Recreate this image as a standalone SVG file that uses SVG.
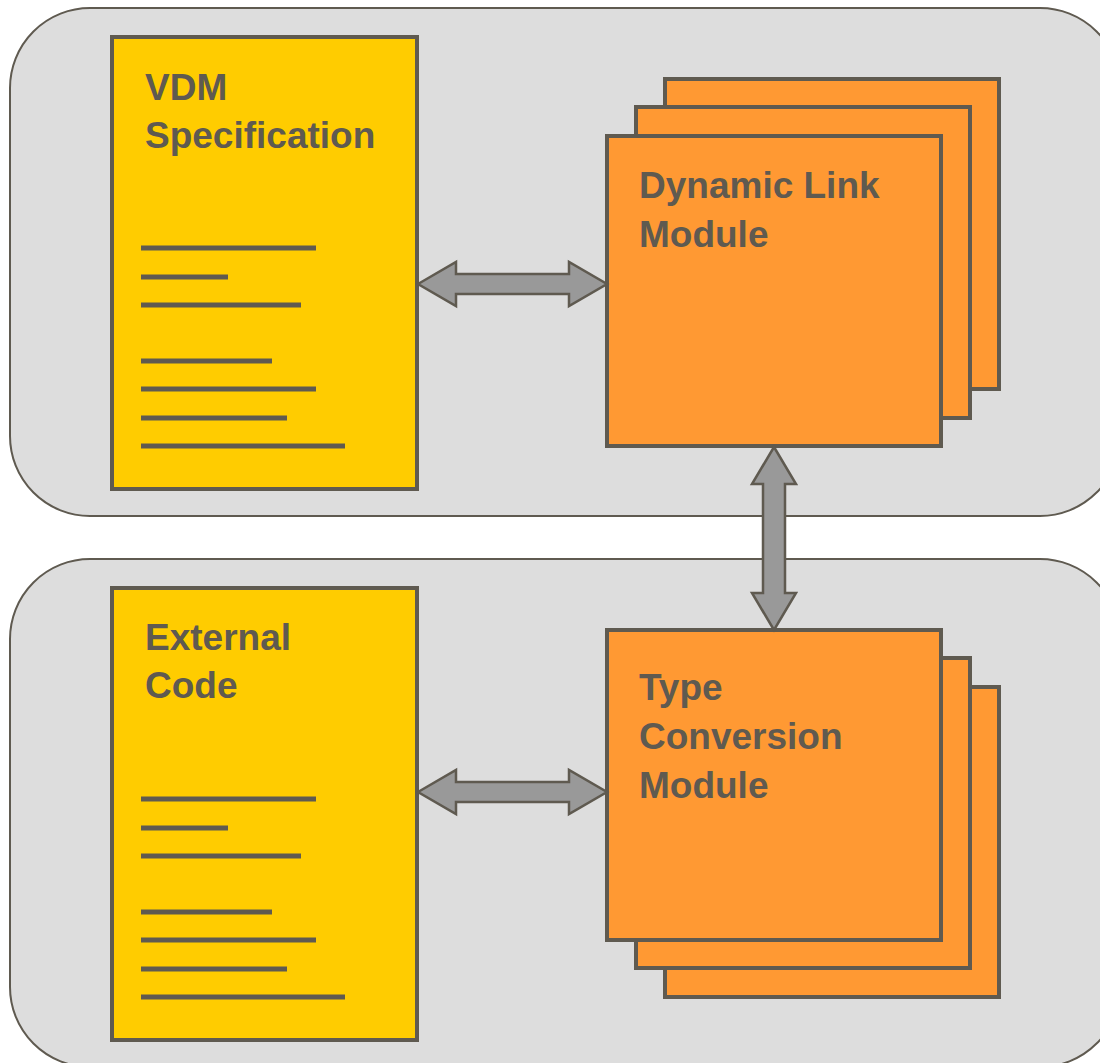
<svg xmlns="http://www.w3.org/2000/svg" width="1100" height="1063" viewBox="0 0 1100 1063">
<style>
.panel{fill:#DDDDDD;stroke:#5F5A50;stroke-width:2}
.doc{fill:#FFCC00;stroke:#5F5A50;stroke-width:4}
.mod{fill:#FF9933;stroke:#5F5A50;stroke-width:4}
.ln{stroke:#5F5A50;stroke-width:5}
.arrow{fill:#999999;stroke:#5F5A50;stroke-width:2.5;stroke-linejoin:miter}
.t{font-family:"Liberation Sans",Arial,sans-serif;font-weight:bold;font-size:37px;fill:#5F5A50}
</style>
<g id="panel-top"><rect class="panel" x="10" y="8" width="1110" height="508" rx="80" ry="80"/></g>
<g id="panel-bottom"><rect class="panel" x="10" y="559" width="1110" height="508" rx="80" ry="80"/></g>
<g id="vdm-spec">
<rect class="doc" x="112" y="37" width="305" height="452"/>
<text class="t" x="145" y="100">VDM</text>
<text class="t" x="145" y="148">Specification</text>
<line class="ln" x1="141" y1="248" x2="316" y2="248"/>
<line class="ln" x1="141" y1="277" x2="228" y2="277"/>
<line class="ln" x1="141" y1="305" x2="301" y2="305"/>
<line class="ln" x1="141" y1="361" x2="272" y2="361"/>
<line class="ln" x1="141" y1="389" x2="316" y2="389"/>
<line class="ln" x1="141" y1="418" x2="287" y2="418"/>
<line class="ln" x1="141" y1="446" x2="345" y2="446"/>
</g>
<g id="external-code">
<rect class="doc" x="112" y="588" width="305" height="452"/>
<text class="t" x="145" y="650">External</text>
<text class="t" x="145" y="698">Code</text>
<line class="ln" x1="141" y1="799" x2="316" y2="799"/>
<line class="ln" x1="141" y1="828" x2="228" y2="828"/>
<line class="ln" x1="141" y1="856" x2="301" y2="856"/>
<line class="ln" x1="141" y1="912" x2="272" y2="912"/>
<line class="ln" x1="141" y1="940" x2="316" y2="940"/>
<line class="ln" x1="141" y1="969" x2="287" y2="969"/>
<line class="ln" x1="141" y1="997" x2="345" y2="997"/>
</g>
<g id="dynamic-link-module">
<rect class="mod" x="665" y="79" width="334" height="310"/>
<rect class="mod" x="636" y="107" width="334" height="311"/>
<rect class="mod" x="607" y="136" width="334" height="310"/>
<text class="t" x="639" y="198">Dynamic Link</text>
<text class="t" x="639" y="247">Module</text>
</g>
<g id="type-conversion-module">
<rect class="mod" x="665" y="687" width="334" height="310"/>
<rect class="mod" x="636" y="658" width="334" height="310"/>
<rect class="mod" x="607" y="630" width="334" height="310"/>
<text class="t" x="639" y="700">Type</text>
<text class="t" x="639" y="749">Conversion</text>
<text class="t" x="639" y="798">Module</text>
</g>
<g id="connectors">
<polygon class="arrow" points="418,284 456,262 456,274 569,274 569,262 607,284 569,306 569,294 456,294 456,306"/>
<polygon class="arrow" points="418,792 456,770 456,782 569,782 569,770 607,792 569,814 569,802 456,802 456,814"/>
<polygon class="arrow" points="774,447 796,484 785,484 785,593 796,593 774,630 752,593 763,593 763,484 752,484"/>
</g>
</svg>
